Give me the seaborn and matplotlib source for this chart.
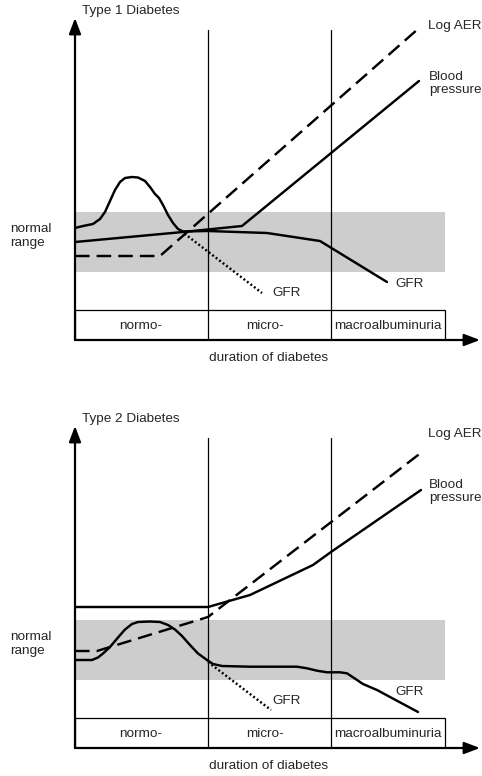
import matplotlib
matplotlib.use("Agg")
import matplotlib.pyplot as plt
from matplotlib.patches import Rectangle
import seaborn as sns

# Albuminuria stages along the duration axis (arbitrary units)
stage_edges = [0, 133, 256, 370]
stage_names = ["normo-", "micro-", "macroalbuminuria"]
stage_label_x = [66, 190, 313]
normal_range = [68, 128]

# Type 1 diabetes (duration, relative level)
t1_gfr_x = [0, 8, 18, 25, 30, 35, 40, 45, 50, 57, 63, 70, 75, 80, 84, 88, 93, 98, 103, 108,
            133, 192, 245, 312]
t1_gfr_y = [112, 114, 116, 121, 128, 139, 150, 158, 162, 163, 162.5, 159, 153, 146, 142, 135,
            125, 117, 111, 108.5, 109, 107, 99, 58]
t1_gfr_untreated_x = [106, 187]
t1_gfr_untreated_y = [109, 47]
t1_bp_x = [0, 108, 167, 344]
t1_bp_y = [98, 108, 114, 259]
t1_aer_x = [0, 85, 343]
t1_aer_y = [84, 84, 311]

# Type 2 diabetes (duration, relative level)
t2_gfr_x = [0, 17, 23, 28, 35, 43, 50, 57, 63, 75, 85, 93, 100, 107, 115, 123, 132, 138, 147,
            175, 222, 232, 242, 252, 265, 272, 278, 288, 302, 343]
t2_gfr_y = [88, 88, 90.5, 94.5, 101, 110.5, 118.5, 124, 126, 126.5, 126, 123, 118.5, 112, 103,
            94.5, 88, 84, 82, 81.3, 81.3, 79.7, 77.3, 75.7, 75.7, 74.7, 70.7, 64, 58, 36]
t2_gfr_untreated_x = [133, 196]
t2_gfr_untreated_y = [86, 38]
t2_bp_x = [0, 133, 175, 238, 256, 346]
t2_bp_y = [141, 141, 153, 183, 196, 258]
t2_aer_x = [0, 22, 133, 347]
t2_aer_y = [97, 97, 131, 296]

sns.set_style("white")
plt.rcParams["font.family"] = ["Liberation Sans", "DejaVu Sans"]

W, H = 482, 776
fig = plt.figure(figsize=(W / 100, H / 100), dpi=100)

LW = 1.75
FS = 9.7
DASH = (0, (6.0, 2.9))
DOT = (0, (0.8, 1.0))


def draw_panel(ax, title, gfr, gfr_untreated, bp, aer):
    ax.set_xlim(0, 405)
    ax.set_ylim(0, 322)
    ax.axis("off")

    # normal range band
    ax.fill_between([stage_edges[0], stage_edges[-1]], normal_range[0], normal_range[1],
                    color="#cdcdcd", lw=0, zorder=0)

    # stage strip and dividers
    ax.add_patch(Rectangle((stage_edges[0], 0), stage_edges[-1] - stage_edges[0], 30,
                           fill=False, edgecolor="black", lw=0.9, zorder=1))
    for xe in stage_edges[1:3]:
        ax.plot([xe, xe], [0, 310], color="black", lw=0.9, zorder=1)
    for name, xl in zip(stage_names, stage_label_x):
        ax.text(xl, 14, name, ha="center", va="center", fontsize=FS)

    # curves
    sns.lineplot(x=aer[0], y=aer[1], ax=ax, color="black", lw=LW, linestyle=DASH,
                 errorbar=None, zorder=3)
    sns.lineplot(x=bp[0], y=bp[1], ax=ax, color="black", lw=LW, errorbar=None, zorder=3)
    sns.lineplot(x=gfr[0], y=gfr[1], ax=ax, color="black", lw=LW, errorbar=None, zorder=3)
    sns.lineplot(x=gfr_untreated[0], y=gfr_untreated[1], ax=ax, color="black", lw=LW,
                 linestyle=DOT, errorbar=None, zorder=3)

    # axes with arrowheads
    arrow = dict(arrowstyle="-|>,head_length=0.95,head_width=0.36", color="black",
                 lw=1.6, shrinkA=0, shrinkB=0, mutation_scale=10)
    ax.annotate("", xy=(0, 322), xytext=(0, 0), arrowprops=arrow, annotation_clip=False)
    ax.annotate("", xy=(405, 0), xytext=(0, 0), arrowprops=arrow, annotation_clip=False)

    # labels
    ax.text(7, 329, title, ha="left", va="center", fontsize=FS)
    ax.text(353, 314, "Log AER", ha="left", va="center", fontsize=FS)
    ax.text(354, 256.5, "Blood\npressure", ha="left", va="center", fontsize=FS,
            linespacing=1.12)
    ax.text(-65, 104, "normal\nrange", ha="left", va="center", fontsize=FS,
            linespacing=1.15)
    ax.text(197, 47, "GFR", ha="left", va="center", fontsize=FS)
    ax.text(320, 56, "GFR", ha="left", va="center", fontsize=FS)
    ax.text(194, -18, "duration of diabetes", ha="center", va="center", fontsize=FS)


ax1 = fig.add_axes([75 / W, (H - 340) / H, 405 / W, 322 / H])
ax2 = fig.add_axes([75 / W, (H - 748) / H, 405 / W, 322 / H])

draw_panel(ax1, "Type 1 Diabetes",
           (t1_gfr_x, t1_gfr_y), (t1_gfr_untreated_x, t1_gfr_untreated_y),
           (t1_bp_x, t1_bp_y), (t1_aer_x, t1_aer_y))
draw_panel(ax2, "Type 2 Diabetes",
           (t2_gfr_x, t2_gfr_y), (t2_gfr_untreated_x, t2_gfr_untreated_y),
           (t2_bp_x, t2_bp_y), (t2_aer_x, t2_aer_y))

fig.savefig("out.png", dpi=100)
